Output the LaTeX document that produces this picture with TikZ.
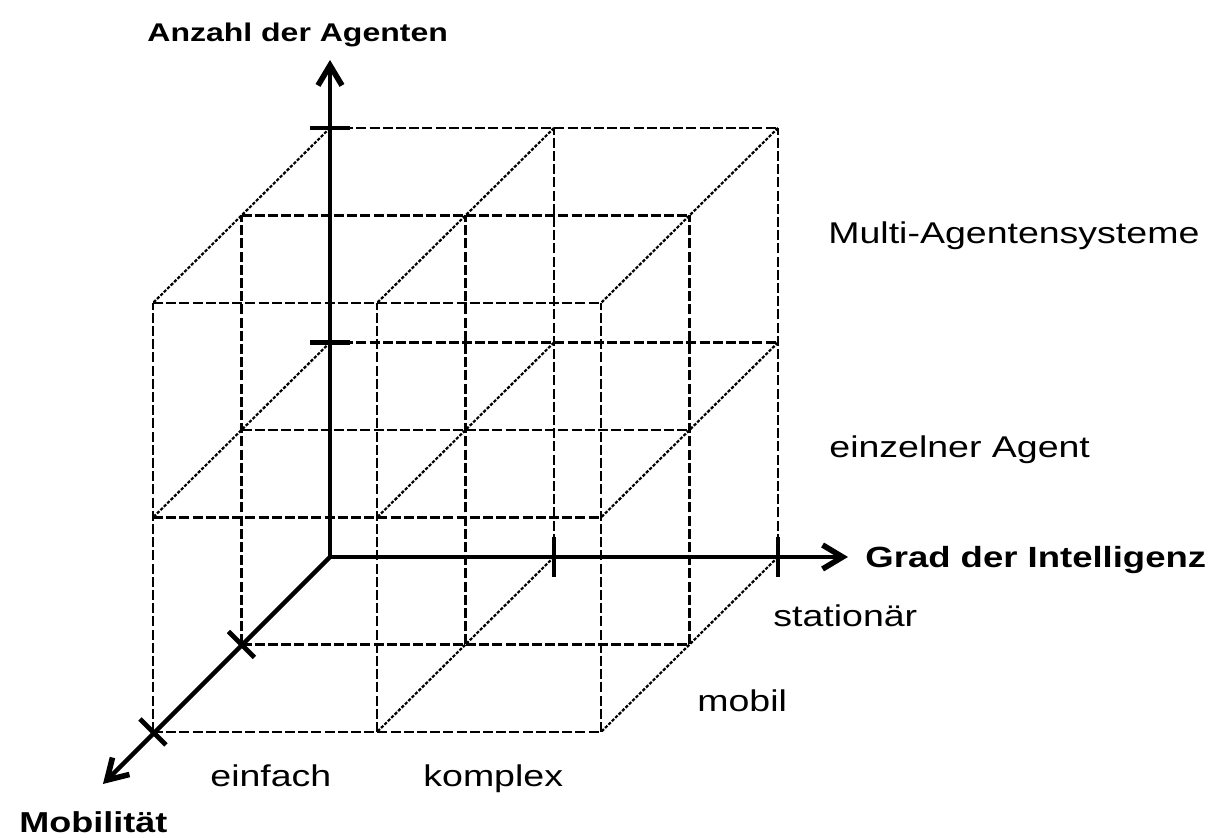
\documentclass[tikz,border=0pt]{standalone}
\usepackage{fontspec}
\setmainfont{Liberation Sans}
\newfontfamily\wideface[FakeStretch=1.25]{Liberation Sans}
\usetikzlibrary{arrows.meta}

\begin{document}
\begin{tikzpicture}[
  x={(112pt,0pt)}, y={(0pt,107.25pt)}, z={(-44.25pt,-43.75pt)},
  gridline/.style={line width=1.3pt, dash pattern=on 5pt off 1.6pt},
  depthline/.style={line width=1.1pt, dash pattern=on 1.6pt off 0.8pt},
  axisline/.style={line width=2.2pt, -{Straight Barb[length=10pt,width=12pt,line width=2.8pt]}},
  tickmark/.style={line width=2.4pt},
  celltext/.style={font=\wideface\fontsize{15pt}{18pt}\selectfont, inner sep=0pt, anchor=base west},
  axistext/.style={font=\wideface\bfseries\fontsize{#1}{#1}\selectfont, inner sep=0pt, anchor=base west}
]
  \useasboundingbox (-165pt,-140.5pt) rectangle (439.5pt,278.5pt);
  \coordinate (O) at (0,0,0);
  \coordinate (ytip) at (0pt,248.5pt);
  \coordinate (xtip) at (259pt,0pt);
  \coordinate (ztip) at (-113.5pt,-113.5pt);
  % lattice of the 2x2x2 cube
  \foreach \j in {0,1,2}
    \foreach \k in {0,1,2} {
      \pgfmathtruncatemacro\offaxis{\j+\k}
      \ifnum\offaxis>0 \draw[gridline] (0,\j,\k) -- (2,\j,\k); \fi
    }
  \foreach \i in {0,1,2}
    \foreach \k in {0,1,2} {
      \pgfmathtruncatemacro\offaxis{\i+\k}
      \ifnum\offaxis>0 \draw[gridline] (\i,0,\k) -- (\i,2,\k); \fi
    }
  \foreach \i in {0,1,2}
    \foreach \j in {0,1,2} {
      \pgfmathtruncatemacro\offaxis{\i+\j}
      \ifnum\offaxis>0 \draw[depthline] (\i,\j,0) -- (\i,\j,2); \fi
    }
  % ticks
  \foreach \j in {1,2} \draw[tickmark] (0,\j,0) ++(-10pt,0pt) -- ++(20pt,0pt);
  \foreach \i in {1,2} \draw[tickmark] (\i,0,0) ++(0pt,-10pt) -- ++(0pt,20pt);
  \foreach \k in {1,2} \draw[tickmark] (0,0,\k) ++(-6.5pt,6.5pt) -- ++(13pt,-13pt);
  % axes
  \draw[axisline] (O) -- (ytip);
  \draw[axisline] (O) -- (xtip);
  \draw[axisline] (O) -- (ztip);
  % labels
  \node[axistext=12.8pt] (anzahl) at (-91.5pt,257.5pt) {Anzahl der Agenten};
  \node[axistext=14.6pt] (grad) at (267.5pt,-5.5pt) {Grad der Intelligenz};
  \node[axistext=14.4pt] (mobilitaet) at (-155.5pt,-138pt) {Mobilität};
  \node[celltext] (multi) at (249pt,156.5pt) {Multi-Agentensysteme};
  \node[celltext] (einzeln) at (249.5pt,49.5pt) {einzelner Agent};
  \node[celltext] (station) at (221.5pt,-35pt) {stationär};
  \node[celltext] (mobil) at (183.5pt,-77.5pt) {mobil};
  \node[celltext] (einfach) at (-60pt,-115pt) {einfach};
  \node[celltext] (komplex) at (46.5pt,-115pt) {komplex};
\end{tikzpicture}
\end{document}
